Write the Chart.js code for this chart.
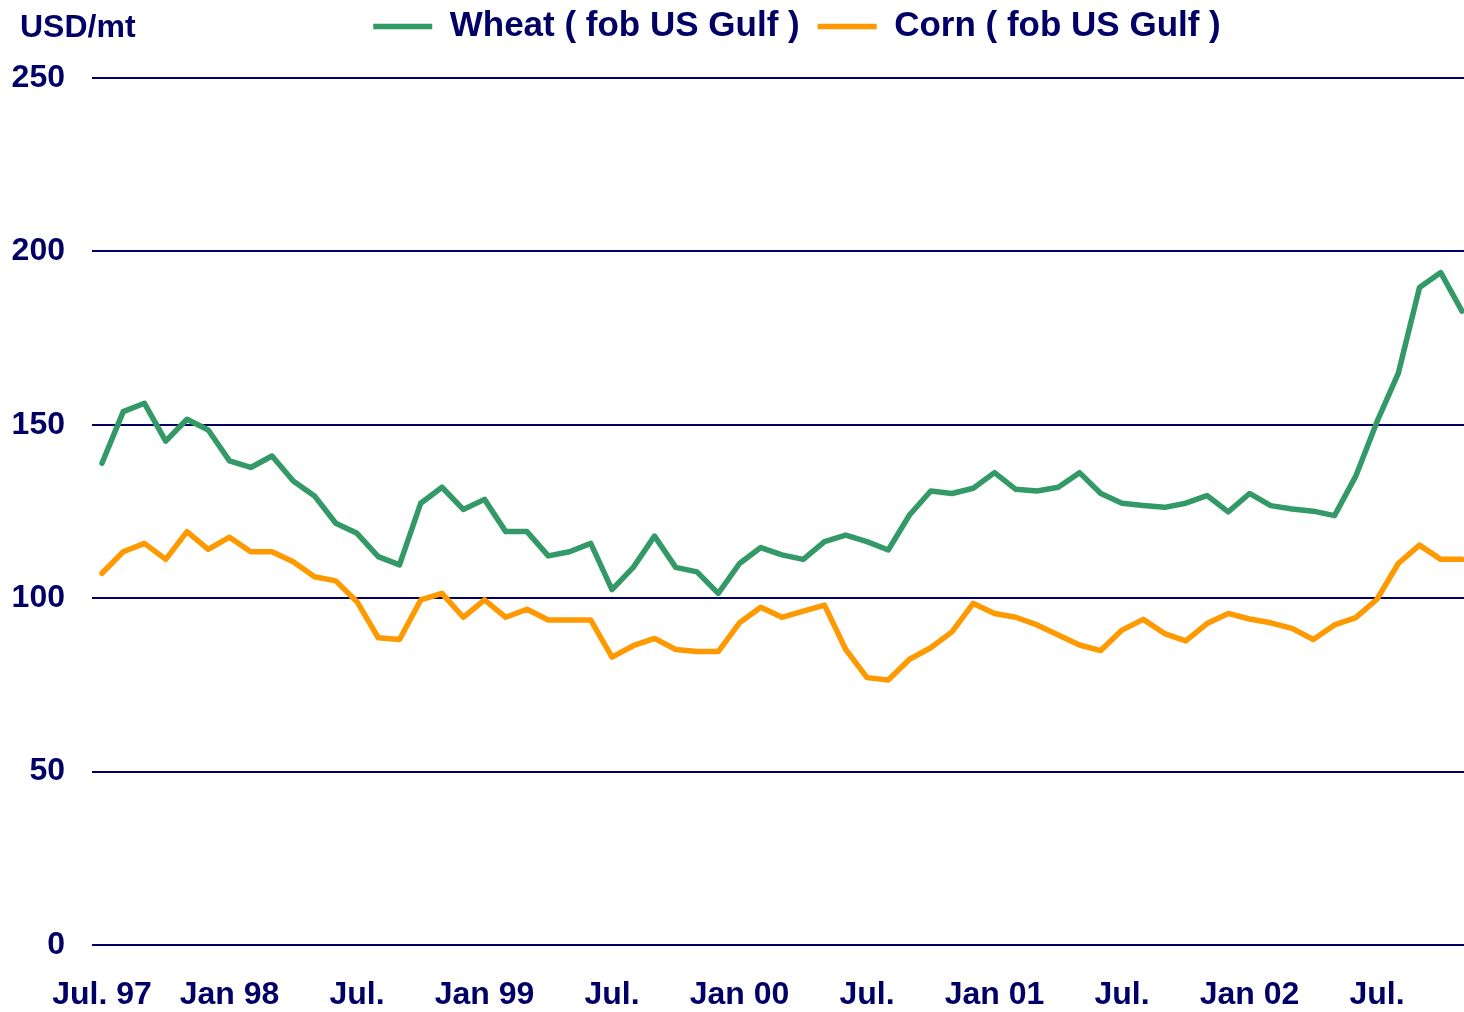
<!DOCTYPE html>
<html>
<head>
<meta charset="utf-8">
<script src="https://cdn.jsdelivr.net/npm/chart.js@4/dist/chart.umd.min.js"></script>
<style>
  html, body { margin: 0; padding: 0; background: #ffffff; }
  #wrap { width: 1464px; height: 1012px; position: relative; }
</style>
</head>
<body>
<div id="wrap"><canvas id="c"></canvas></div>
<script>
// Monthly prices, Jul 1997 .. Nov 2002 (USD/mt)
const wheat = [138.9, 153.8, 156.2, 145.3, 151.6, 148.5, 139.6, 137.7, 141.0, 133.8,
  129.5, 121.6, 118.7, 112.0, 109.6, 127.4, 132.0, 125.6, 128.5, 119.2,
  119.2, 112.2, 113.4, 115.8, 102.5, 108.9, 117.9, 108.9, 107.6, 101.4,
  110.0, 114.6, 112.5, 111.2, 116.3, 118.2, 116.3, 113.9, 124.0, 130.9,
  130.2, 131.7, 136.2, 131.4, 130.9, 132.0, 136.2, 130.2, 127.4, 126.7,
  126.2, 127.4, 129.6, 124.9, 130.2, 126.7, 125.7, 125.1, 123.8, 135.2,
  150.9, 164.8, 189.6, 193.9, 182.8];
const corn = [107.2, 113.4, 115.8, 111.2, 119.2, 114.1, 117.6, 113.4, 113.4, 110.5,
  106.2, 105.0, 99.0, 88.6, 88.1, 99.5, 101.4, 94.5, 99.5, 94.5,
  96.8, 93.7, 93.7, 93.7, 83.0, 86.3, 88.4, 85.2, 84.6, 84.6,
  92.9, 97.4, 94.5, 96.3, 98.0, 85.2, 77.1, 76.4, 82.4, 85.7,
  90.3, 98.5, 95.6, 94.5, 92.3, 89.4, 86.5, 84.9, 90.8, 93.9,
  89.8, 87.7, 92.7, 95.6, 94.0, 92.9, 91.3, 88.1, 92.3, 94.4,
  99.7, 110.0, 115.3, 111.2, 111.2];
// x tick positions (month index from Jul 97) and their labels
const tickPositions = [0, 6, 12, 18, 24, 30, 36, 42, 48, 54, 60];
const tickLabels = ['Jul. 97', 'Jan 98', 'Jul.', 'Jan 99', 'Jul.', 'Jan 00', 'Jul.', 'Jan 01', 'Jul.', 'Jan 02', 'Jul.'];
const yTicks = [0, 50, 100, 150, 200, 250];
const seriesNames = ['Wheat ( fob US Gulf )', 'Corn ( fob US Gulf )'];
const unitLabel = 'USD/mt';

const NAVY = '#000066';
const FONT = '"Liberation Sans", Arial, Helvetica, sans-serif';
const LEGEND_DX = 19;
const LEGEND_DY = -24;

const toPts = arr => arr.map((v, i) => ({ x: i, y: v }));

const nudgeLegend = {
  id: 'nudgeLegend',
  afterLayout(chart) {
    const lg = chart.legend;
    if (!lg) return;
    lg.left += LEGEND_DX; lg.right += LEGEND_DX;
    lg.top += LEGEND_DY; lg.bottom += LEGEND_DY;
  }
};
const unitText = {
  id: 'unitText',
  afterDraw(chart) {
    const ctx = chart.ctx;
    ctx.save();
    ctx.font = 'bold 32px ' + FONT;
    ctx.fillStyle = NAVY;
    ctx.textAlign = 'left';
    ctx.textBaseline = 'alphabetic';
    ctx.fillText(unitLabel, 20, 37);
    ctx.restore();
  }
};

new Chart(document.getElementById('c'), {
  type: 'line',
  data: {
    datasets: [
      { label: seriesNames[0], data: toPts(wheat), borderColor: '#339966', backgroundColor: '#339966',
        borderWidth: 5.5, pointRadius: 0, tension: 0, borderJoinStyle: 'round', borderCapStyle: 'round', fill: false },
      { label: seriesNames[1], data: toPts(corn), borderColor: '#FF9900', backgroundColor: '#FF9900',
        borderWidth: 5.5, pointRadius: 0, tension: 0, borderJoinStyle: 'round', borderCapStyle: 'round', fill: false }
    ]
  },
  options: {
    responsive: true,
    maintainAspectRatio: false,
    animation: false,
    layout: { padding: { left: 12, right: 0, top: 15, bottom: 0 } },
    plugins: {
      tooltip: { enabled: false },
      legend: {
        position: 'top',
        fullSize: false,
        labels: {
          usePointStyle: true,
          pointStyle: 'line',
          pointStyleWidth: 59,
          padding: 18,
          color: NAVY,
          font: { family: FONT, size: 35, weight: 'bold' }
        }
      }
    },
    scales: {
      x: {
        type: 'linear',
        min: -0.47,
        max: 64.094,
        grid: { display: false, drawTicks: false },
        border: { display: false },
        afterBuildTicks: scale => { scale.ticks = tickPositions.map(v => ({ value: v })); },
        afterFit: scale => { scale.paddingLeft = 0; scale.paddingRight = 0; scale.height = 67; },
        ticks: {
          autoSkip: false,
          maxRotation: 0,
          padding: 33,
          color: NAVY,
          font: { family: FONT, size: 32, weight: 'bold', lineHeight: 1.1 },
          callback: (v) => { const k = tickPositions.indexOf(v); return k >= 0 ? tickLabels[k] : ''; }
        }
      },
      y: {
        min: 0,
        max: 250,
        afterBuildTicks: scale => { scale.ticks = yTicks.map(v => ({ value: v })); },
        afterFit: scale => { scale.paddingTop = 0; scale.paddingBottom = 0; scale.width = 80; },
        grid: { color: NAVY, lineWidth: 2, drawTicks: false },
        border: { display: false },
        ticks: {
          padding: 27,
          color: NAVY,
          font: { family: FONT, size: 32, weight: 'bold' }
        }
      }
    }
  },
  plugins: [nudgeLegend, unitText]
});
</script>
</body>
</html>
